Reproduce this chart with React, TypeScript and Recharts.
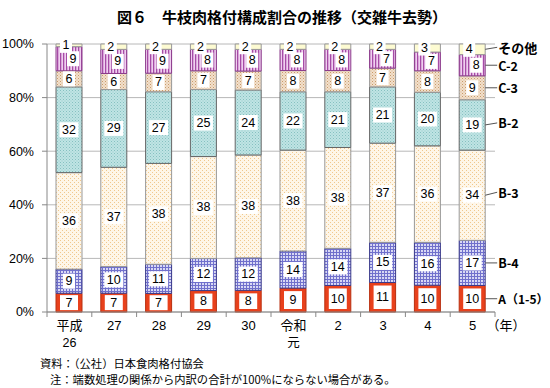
import React from "react";
import { BarChart, Bar, XAxis, YAxis, CartesianGrid, LabelList } from "recharts";

const categories = ["平成\n26", "27", "28", "29", "30", "令和\n元", "2", "3", "4", "5"];
const gradeA = [7, 7, 7, 8, 8, 9, 10, 11, 10, 10];
const gradeB4 = [9, 10, 11, 12, 12, 14, 14, 15, 16, 17];
const gradeB3 = [36, 37, 38, 38, 38, 38, 38, 37, 36, 34];
const gradeB2 = [32, 29, 27, 25, 24, 22, 21, 21, 20, 19];
const gradeC3 = [6, 6, 7, 7, 7, 8, 8, 7, 8, 9];
const gradeC2 = [9, 9, 9, 8, 8, 8, 8, 7, 7, 8];
const others = [1, 2, 2, 2, 2, 2, 2, 2, 3, 4];
const yTicks = [0, 0.2, 0.4, 0.6, 0.8, 1];

const seriesKeys = ["A", "B4", "B3", "B2", "C3", "C2", "other"];
const seriesNames = ["A（1-5）", "B-4", "B-3", "B-2", "C-3", "C-2", "その他"];

const data = categories.map((c, i) => ({
  label: c,
  A: gradeA[i],
  B4: gradeB4[i],
  B3: gradeB3[i],
  B2: gradeB2[i],
  C3: gradeC3[i],
  C2: gradeC2[i],
  other: others[i],
}));

const JP = "'Noto Sans CJK JP', 'Noto Sans', sans-serif";
const NUM = "'Liberation Sans', Arial, sans-serif";

const fills: Record<string, string> = {
  A: "#e8411c",
  B4: "url(#patB4)",
  B3: "url(#patB3)",
  B2: "url(#patB2)",
  C3: "url(#patC3)",
  C2: "url(#patC2)",
  other: "#fdfbd2",
};
const strokes: Record<string, string> = {
  A: "#b83010",
  B4: "#3a3a8a",
  B3: "#999999",
  B2: "#666666",
  C3: "#999999",
  C2: "#8a3a8a",
  other: "#999999",
};
const labelDx: Record<string, number> = { C2: 4, other: -3 };
const legendDy: Record<string, number> = { other: -2, C2: 0, C3: 0, B2: -2, B3: -3, B4: 0, A: 0 };
const legendSize: Record<string, number> = { other: 13, A: 12 };

const makeValueLabel = (key: string) => (props: any) => {
  const { x, y, width, height, value } = props;
  const cx = Number(x) + Number(width) / 2 + (labelDx[key] || 0);
  const cy = Number(y) + Number(height) / 2;
  const s = String(value);
  let bw = s.length * 7 + 5;
  let bh = 15;
  if (key === "A") {
    bw = Number(width) - 8;
    bh = Math.max(Number(height) - 6, 15);
  }
  return (
    <g>
      <rect x={cx - bw / 2} y={cy - bh / 2} width={bw} height={bh} fill="#ffffff" />
      <text x={cx} y={cy} textAnchor="middle" dominantBaseline="central" fontSize={12.5} fontFamily={NUM} fill="#000">
        {s}
      </text>
    </g>
  );
};

const makeLegendLabel = (key: string, name: string) => (props: any) => {
  const { x, y, width, height, index } = props;
  if (index !== categories.length - 1) return null;
  const x0 = Number(x) + Number(width);
  const cy = Number(y) + Number(height) / 2;
  const ty = cy + (legendDy[key] || 0);
  return (
    <g>
      <line x1={x0} y1={cy} x2={x0 + 12} y2={ty} stroke="#555" strokeWidth={1} />
      <text x={x0 + 13} y={ty} dominantBaseline="central" fontSize={legendSize[key] || 12.5} fontFamily={JP} fontWeight={600} fill="#000">
        {name}
      </text>
    </g>
  );
};

const XTick = (props: any) => {
  const { x, y, payload, index } = props;
  const lines = String(payload.value).split("\n");
  const half = 22.4;
  return (
    <g>
      {index === 0 && <line x1={x - half} y1={y} x2={x - half} y2={y + 5} stroke="#888" />}
      <line x1={x + half} y1={y} x2={x + half} y2={y + 5} stroke="#888" />
      {lines.map((l, i) => (
        <text key={i} x={x} y={y + 18 + i * 16.5} textAnchor="middle" fontSize={i === 0 ? 13 : 12.5} fontFamily={/^[0-9]+$/.test(l) ? NUM : JP} fill="#000">
          {l}
        </text>
      ))}
      {index === categories.length - 1 && (
        <text x={x + 14} y={y + 18} fontSize={13} fontFamily={JP} fill="#000">
          （年）
        </text>
      )}
    </g>
  );
};

export default function App() {
  return (
    <div style={{ position: "absolute", left: 0, top: 0, width: 550, height: 388, background: "#fff" }}>
      <BarChart
        width={550}
        height={388}
        data={data}
        stackOffset="expand"
        barSize={26}
        margin={{ top: 44, right: 55, bottom: 46, left: 0 }}
      >
        <defs>
          <pattern id="patB4" width="3" height="3" patternUnits="userSpaceOnUse">
            <rect width="3" height="3" fill="#d8d8f4" />
            <rect width="3" height="1" fill="#7070cc" />
            <rect width="1" height="3" fill="#7070cc" />
          </pattern>
          <pattern id="patB3" width="4" height="4" patternUnits="userSpaceOnUse">
            <rect width="4" height="4" fill="#fef6e8" />
            <rect x="0" y="0" width="1" height="1" fill="#f0c88e" />
            <rect x="2" y="2" width="1" height="1" fill="#f0c88e" />
          </pattern>
          <pattern id="patB2" width="3" height="3" patternUnits="userSpaceOnUse">
            <rect width="3" height="3" fill="#bfe4e4" />
            <rect x="0" y="0" width="1" height="1" fill="#86c0c0" />
            <rect x="1.5" y="1.5" width="1" height="1" fill="#98caca" />
          </pattern>
          <pattern id="patC3" width="3" height="3" patternUnits="userSpaceOnUse">
            <rect width="3" height="3" fill="#f2e0cc" />
            <rect x="0" y="0" width="1" height="1" fill="#c89a6a" />
            <rect x="1.5" y="1.5" width="1" height="1" fill="#d8b088" />
          </pattern>
          <pattern id="patC2" width="3" height="3" patternUnits="userSpaceOnUse">
            <rect width="3" height="3" fill="#f0cef0" />
            <rect x="0" y="0" width="1.3" height="3" fill="#a64ca6" />
          </pattern>
        </defs>
        <text x={282} y={16} textAnchor="middle" dominantBaseline="central" fontSize={15} fontWeight={700} fontFamily={JP} fill="#000">
          図６　牛枝肉格付構成割合の推移（交雑牛去勢）
        </text>
        <text x={40} y={363} dominantBaseline="central" fontSize={11.3} fontFamily={JP} fill="#000">
          資料：（公社）日本食肉格付協会
        </text>
        <text x={50} y={379} dominantBaseline="central" fontSize={11.3} fontFamily={JP} fill="#000">
          注：端数処理の関係から内訳の合計が100%にならない場合がある。
        </text>
        <CartesianGrid vertical={false} stroke="#b8b8b8" />
        <XAxis
          dataKey="label"
          interval={0}
          tickLine={false}
          tickSize={0}
          tickMargin={0}
          height={30}
          axisLine={{ stroke: "#888" }}
          tick={<XTick />}
        />
        <YAxis
          width={47}
          domain={[0, 1]}
          ticks={yTicks}
          tickSize={5}
          tickMargin={8}
          tickLine={{ stroke: "#888" }}
          axisLine={{ stroke: "#888" }}
          tickFormatter={(v: number) => `${Math.round(v * 100)}%`}
          tick={{ fontSize: 12.5, fontFamily: NUM, fill: "#000" }}
        />
        <YAxis
          yAxisId="right"
          orientation="right"
          width={0}
          type="number"
          domain={[0, 1]}
          tick={false}
          tickLine={false}
          axisLine={{ stroke: "#aaa" }}
        />
        {seriesKeys.map((k, i) => (
          <Bar
            key={k}
            dataKey={k}
            stackId="s"
            fill={fills[k]}
            stroke={strokes[k]}
            strokeWidth={1}
            isAnimationActive={false}
          >
            <LabelList dataKey={k} content={makeValueLabel(k)} />
            <LabelList dataKey={k} content={makeLegendLabel(k, seriesNames[i])} />
          </Bar>
        ))}
      </BarChart>
    </div>
  );
}
